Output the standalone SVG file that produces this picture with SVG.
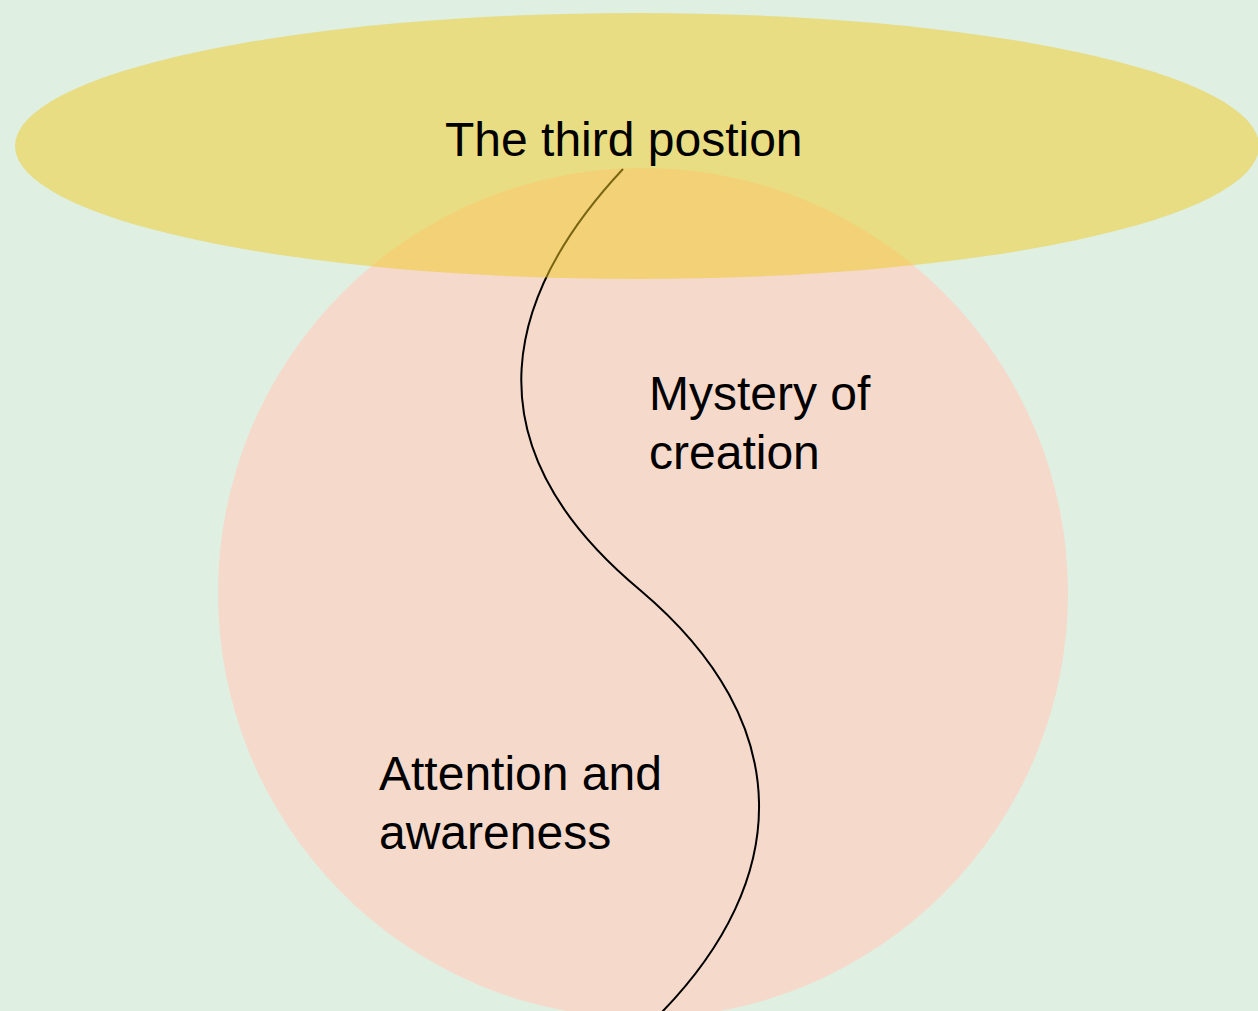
<svg xmlns="http://www.w3.org/2000/svg" width="1258" height="1011" viewBox="0 0 1258 1011">
<style>
  .lbl { font-family: "Liberation Sans", Arial, sans-serif; font-size: 48px; fill: #000; }
</style>
<rect x="0" y="0" width="1258" height="1011" fill="#DFF0E2"/>
<g id="circle-node">
  <circle cx="643" cy="593" r="425" fill="#F5D9CB"/>
</g>
<g id="connectors">
  <path d="M623,169 C510,290 460,440 640,590 C800,725 790,880 662,1012" fill="none" stroke="#000" stroke-width="2"/>
</g>
<g id="ellipse-node">
  <ellipse cx="637" cy="146" rx="622" ry="133" fill="#F2C922" fill-opacity="0.5"/>
  <text class="lbl" x="445" y="156">The third postion</text>
</g>
<g id="mystery-node">
  <text class="lbl" x="649" y="410">Mystery of</text>
  <text class="lbl" x="649" y="469">creation</text>
</g>
<g id="attention-node">
  <text class="lbl" x="379" y="790">Attention and</text>
  <text class="lbl" x="379" y="849">awareness</text>
</g>
</svg>
